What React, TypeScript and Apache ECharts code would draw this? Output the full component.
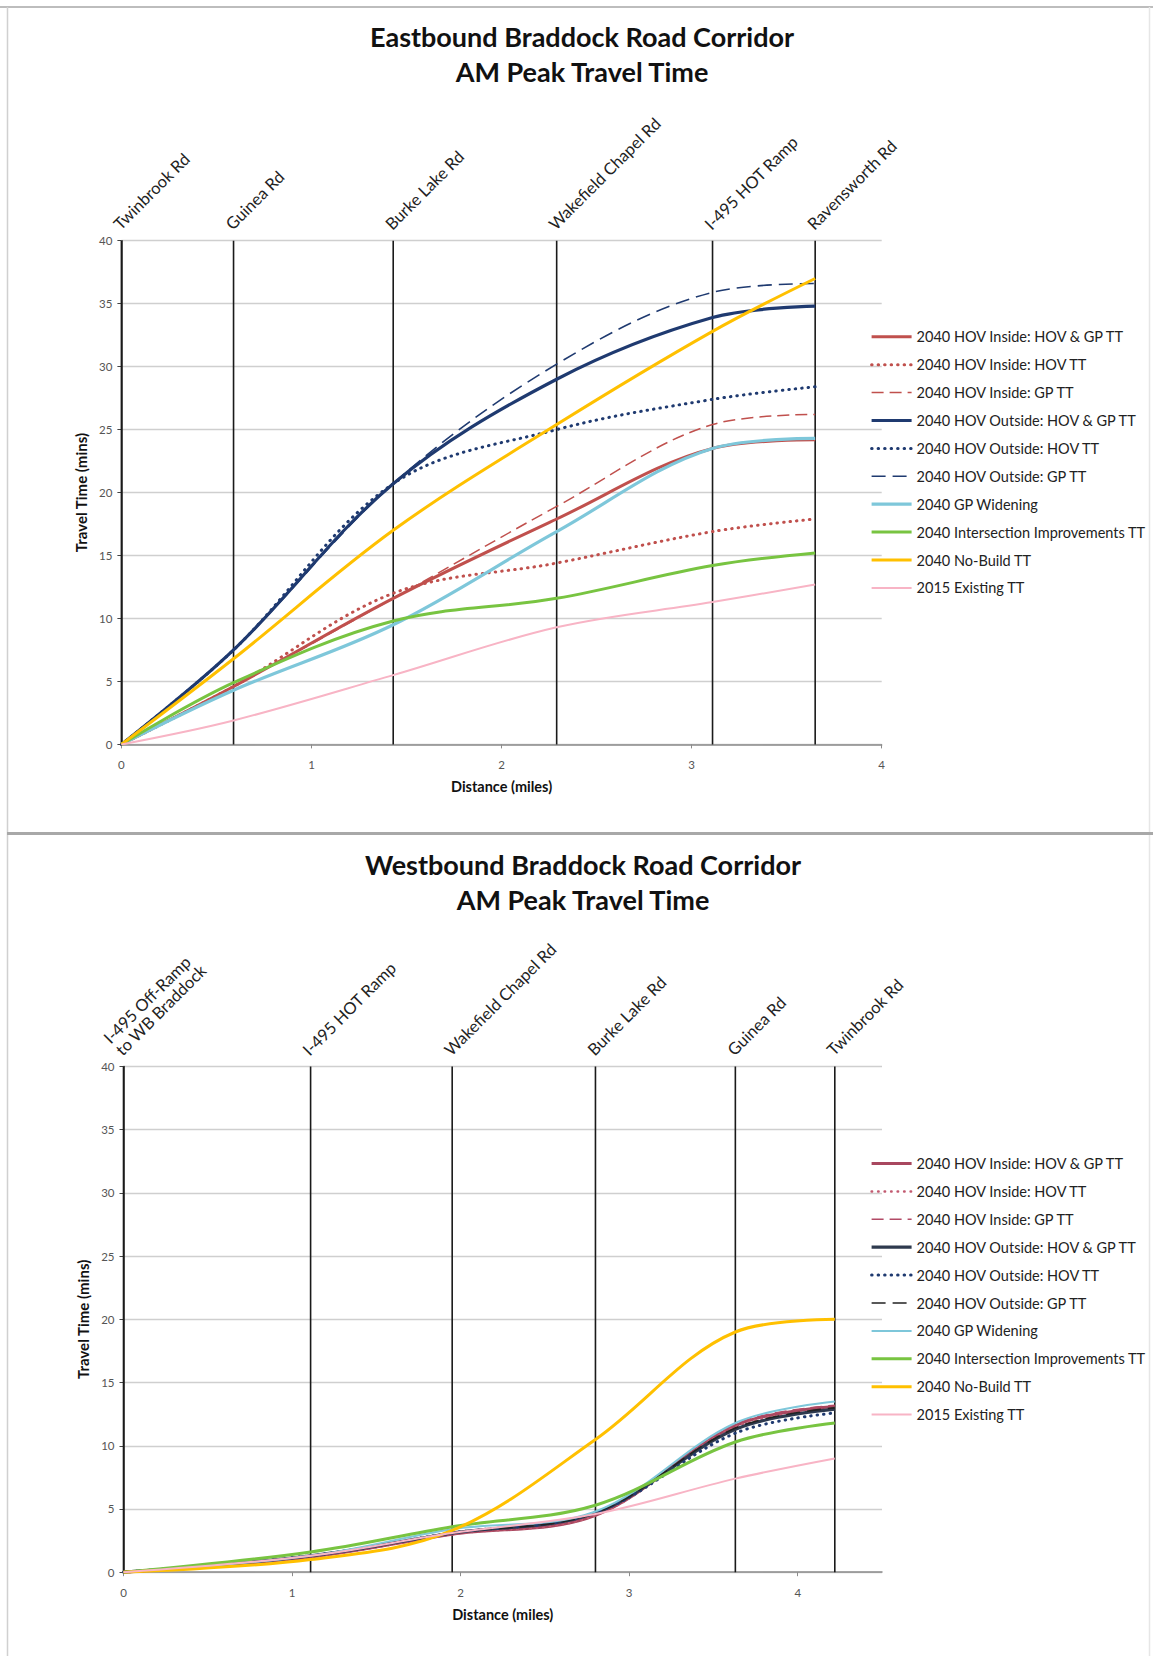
import React, { useEffect, useRef } from 'react';
import * as echarts from 'echarts';

// ---------- data ----------
const SERIES_NAMES = [
  '2040 HOV Inside: HOV & GP TT',
  '2040 HOV Inside: HOV TT',
  '2040 HOV Inside: GP TT',
  '2040 HOV Outside: HOV & GP TT',
  '2040 HOV Outside: HOV TT',
  '2040 HOV Outside: GP TT',
  '2040 GP Widening',
  '2040 Intersection Improvements TT',
  '2040 No-Build TT',
  '2015 Existing TT',
];

// Eastbound
const EB_ROADS = ['Twinbrook Rd', 'Guinea Rd', 'Burke Lake Rd', 'Wakefield Chapel Rd', 'I-495 HOT Ramp', 'Ravensworth Rd'];
const EB_MILES = [0, 0.59, 1.43, 2.29, 3.11, 3.65];
const EB_HOV_IN_ALL = [0, 4.6, 11.6, 17.9, 23.5, 24.2];
const EB_HOV_IN_HOV = [0, 4.6, 12.0, 14.4, 16.9, 17.9];
const EB_HOV_IN_GP = [0, 4.6, 11.6, 18.9, 25.4, 26.2];
const EB_HOV_OUT_ALL = [0, 7.5, 20.7, 29.0, 33.9, 34.8];
const EB_HOV_OUT_HOV = [0, 7.5, 20.7, 25.0, 27.4, 28.4];
const EB_HOV_OUT_GP = [0, 7.5, 20.7, 30.2, 35.9, 36.6];
const EB_GP_WIDEN = [0, 4.3, 9.5, 16.9, 23.5, 24.3];
const EB_INTERSECTION = [0, 4.9, 9.8, 11.6, 14.2, 15.2];
const EB_NO_BUILD = [0, 6.8, 17.0, 25.4, 32.8, 37.0];
const EB_EXISTING = [0, 1.9, 5.5, 9.3, 11.3, 12.7];

// Westbound
const WB_ROADS = ['I-495 Off-Ramp\nto WB Braddock', 'I-495 HOT Ramp', 'Wakefield Chapel Rd', 'Burke Lake Rd', 'Guinea Rd', 'Twinbrook Rd'];
const WB_MILES = [0, 1.11, 1.95, 2.8, 3.63, 4.22];
const WB_HOV_IN_ALL = [0, 1.2, 3.0, 4.5, 11.6, 13.1];
const WB_HOV_IN_HOV = [0, 1.2, 3.0, 4.5, 11.5, 12.9];
const WB_HOV_IN_GP = [0, 1.2, 3.0, 4.6, 11.7, 13.2];
const WB_HOV_OUT_ALL = [0, 1.3, 3.1, 4.7, 11.3, 12.9];
const WB_HOV_OUT_HOV = [0, 1.3, 3.1, 4.7, 11.0, 12.6];
const WB_HOV_OUT_GP = [0, 1.3, 3.1, 4.7, 11.4, 13.0];
const WB_GP_WIDEN = [0, 1.3, 3.4, 4.8, 11.8, 13.5];
const WB_INTERSECTION = [0, 1.6, 3.6, 5.3, 10.3, 11.8];
const WB_NO_BUILD = [0, 1.0, 3.3, 10.5, 19.0, 20.0];
const WB_EXISTING = [0, 1.3, 3.1, 4.6, 7.4, 9.0];

const EB_VALUES = [EB_HOV_IN_ALL, EB_HOV_IN_HOV, EB_HOV_IN_GP, EB_HOV_OUT_ALL, EB_HOV_OUT_HOV, EB_HOV_OUT_GP, EB_GP_WIDEN, EB_INTERSECTION, EB_NO_BUILD, EB_EXISTING];
const WB_VALUES = [WB_HOV_IN_ALL, WB_HOV_IN_HOV, WB_HOV_IN_GP, WB_HOV_OUT_ALL, WB_HOV_OUT_HOV, WB_HOV_OUT_GP, WB_GP_WIDEN, WB_INTERSECTION, WB_NO_BUILD, WB_EXISTING];

const TITLE_EB = 'Eastbound Braddock Road Corridor\nAM Peak Travel Time';
const TITLE_WB = 'Westbound Braddock Road Corridor\nAM Peak Travel Time';
const Y_NAME = 'Travel Time (mins)';
const X_NAME = 'Distance (miles)';

// ---------- styles ----------
const DOT = [0.5, 6];
const DASH = [12, 6];
const EB_STYLES: any[] = [
  { color: '#C0504D', width: 3, type: 'solid' },
  { color: '#C0504D', width: 3, type: DOT, cap: 'round' },
  { color: '#C0504D', width: 1.5, type: DASH },
  { color: '#1F3A70', width: 3.2, type: 'solid' },
  { color: '#1F3A70', width: 3, type: DOT, cap: 'round' },
  { color: '#1F3A70', width: 1.6, type: [14, 7] },
  { color: '#7EC7DA', width: 3.2, type: 'solid' },
  { color: '#78C441', width: 3, type: 'solid' },
  { color: '#FFC000', width: 3, type: 'solid' },
  { color: '#F8B4C5', width: 2, type: 'solid' },
];
const WB_STYLES: any[] = [
  { color: '#A8475F', width: 3, type: 'solid' },
  { color: '#C25A70', width: 2.5, type: DOT, cap: 'round' },
  { color: '#B24A66', width: 1.5, type: DASH },
  { color: '#2E3A4E', width: 3.2, type: 'solid' },
  { color: '#1F3A70', width: 3, type: DOT, cap: 'round' },
  { color: '#222222', width: 1.6, type: [14, 7] },
  { color: '#7EC7DA', width: 2, type: 'solid' },
  { color: '#78C441', width: 3, type: 'solid' },
  { color: '#FFC000', width: 3, type: 'solid' },
  { color: '#F8B4C5', width: 2, type: 'solid' },
];

const FONT = 'Lato, "Open Sans", sans-serif';

function roadSeries(roads: string[], miles: number[], idx: number) {
  return {
    type: 'custom',
    name: 'roads' + idx,
    xAxisIndex: idx,
    yAxisIndex: idx,
    clip: false,
    silent: true,
    z: 1,
    data: miles.map((m) => [m, 0]),
    renderItem: (params: any, api: any) => {
      const x = api.value(0);
      const top = api.coord([x, 40]);
      const bot = api.coord([x, 0]);
      return {
        type: 'group',
        children: [
          {
            type: 'line',
            shape: { x1: top[0], y1: top[1], x2: bot[0], y2: bot[1] },
            style: { stroke: '#1a1a1a', lineWidth: 1.6 },
          },
          {
            type: 'text',
            x: top[0] + 1,
            y: top[1] - 8,
            rotation: Math.PI / 4,
            style: {
              text: roads[params.dataIndex],
              fontFamily: FONT,
              fontSize: 16.5,
              fill: '#222',
              textAlign: 'left',
              textVerticalAlign: 'bottom',
              lineHeight: 17,
            },
          },
        ],
      };
    },
  };
}

function lineSeries(values: number[][], miles: number[], styles: any[], idx: number) {
  return values.map((vals, i) => ({
    type: 'line',
    name: SERIES_NAMES[i],
    xAxisIndex: idx,
    yAxisIndex: idx,
    smooth: 0.35,
    symbol: 'none',
    z: 3 + i,
    lineStyle: { ...styles[i] },
    itemStyle: { color: styles[i].color },
    data: miles.map((m, j) => [m, vals[j]]),
  }));
}

function xAxis(idx: number, max: number, showMax: boolean) {
  return {
    type: 'value',
    gridIndex: idx,
    min: 0,
    max,
    interval: 1,
    name: X_NAME,
    nameLocation: 'middle',
    nameGap: 35,
    nameTextStyle: { fontFamily: FONT, fontWeight: 'bold', fontSize: 14.5, color: '#111' },
    axisLine: { show: true, onZero: false, lineStyle: { color: '#8c8c8c', width: 1.5 } },
    axisTick: { show: true, length: 4, lineStyle: { color: '#8c8c8c' } },
    axisLabel: { fontFamily: FONT, fontSize: 11.5, color: '#555', margin: 14, showMaxLabel: showMax },
    splitLine: { show: false },
  };
}

function yAxis(idx: number) {
  return {
    type: 'value',
    gridIndex: idx,
    min: 0,
    max: 40,
    interval: 5,
    name: Y_NAME,
    nameLocation: 'middle',
    nameRotate: 90,
    nameGap: 29,
    nameTextStyle: { fontFamily: FONT, fontWeight: 'bold', fontSize: 15, color: '#111' },
    axisLine: { show: true, lineStyle: { color: '#222', width: 1.5 } },
    axisTick: { show: true, length: 4, lineStyle: { color: '#444' } },
    axisLabel: { fontFamily: FONT, fontSize: 11.5, color: '#555', margin: 9 },
    splitLine: { show: true, lineStyle: { color: '#cfcfcf', width: 1.4 } },
  };
}

function legend(top: number, styles: any[] | null) {
  return {
    orient: 'vertical',
    left: 870,
    top,
    padding: 0,
    itemWidth: 40,
    itemHeight: 15,
    itemGap: 12.9,
    selectedMode: false,
    itemStyle: { opacity: 0 },
    lineStyle: { width: 'inherit' },
    textStyle: { fontFamily: FONT, fontSize: 14.5, color: '#222' },
    data: SERIES_NAMES.map((n, i) =>
      styles ? { name: n, lineStyle: { ...styles[i] } } : { name: n }
    ),
  };
}

export default function App() {
  const ref = useRef<HTMLDivElement>(null);
  useEffect(() => {
    const chart = echarts.init(ref.current!, null, { renderer: 'svg' });
    const titleStyle = { fontFamily: FONT, fontWeight: 'bold', fontSize: 27, lineHeight: 35, color: '#111' };
    const option: any = {
      animation: false,
      backgroundColor: '#ffffff',
      title: [
        { text: TITLE_EB, left: 582, top: 19, textAlign: 'center', padding: 0, textStyle: titleStyle },
        { text: TITLE_WB, left: 583, top: 847, textAlign: 'center', padding: 0, textStyle: titleStyle },
      ],
      legend: [legend(329.3, null), legend(1156, WB_STYLES)],
      grid: [
        { left: 121.4, top: 240.7, width: 760.3, height: 503.7 },
        { left: 123.5, top: 1066.5, width: 758.5, height: 505.7 },
      ],
      xAxis: [xAxis(0, 4, true), xAxis(1, 4.5, false)],
      yAxis: [yAxis(0), yAxis(1)],
      graphic: [
        { type: 'line', shape: { x1: 0, y1: 7, x2: 1153, y2: 7 }, style: { stroke: '#bdbdbd', lineWidth: 2 }, silent: true },
        { type: 'line', shape: { x1: 7.5, y1: 7, x2: 7.5, y2: 1656 }, style: { stroke: '#d0d0d0', lineWidth: 1.5 }, silent: true },
        { type: 'line', shape: { x1: 1149.5, y1: 7, x2: 1149.5, y2: 1656 }, style: { stroke: '#e6e6e6', lineWidth: 1.5 }, silent: true },
        { type: 'line', shape: { x1: 7, y1: 833.5, x2: 1153, y2: 833.5 }, style: { stroke: '#a8a8a8', lineWidth: 3 }, silent: true },
      ],
      series: [
        roadSeries(EB_ROADS, EB_MILES, 0),
        roadSeries(WB_ROADS, WB_MILES, 1),
        ...lineSeries(EB_VALUES, EB_MILES, EB_STYLES, 0),
        ...lineSeries(WB_VALUES, WB_MILES, WB_STYLES, 1),
      ],
    };
    chart.setOption(option);
    return () => chart.dispose();
  }, []);
  return (
    <div
      ref={ref}
      style={{ position: 'absolute', left: 0, top: 0, width: 1153, height: 1656, background: '#fff' }}
    />
  );
}
